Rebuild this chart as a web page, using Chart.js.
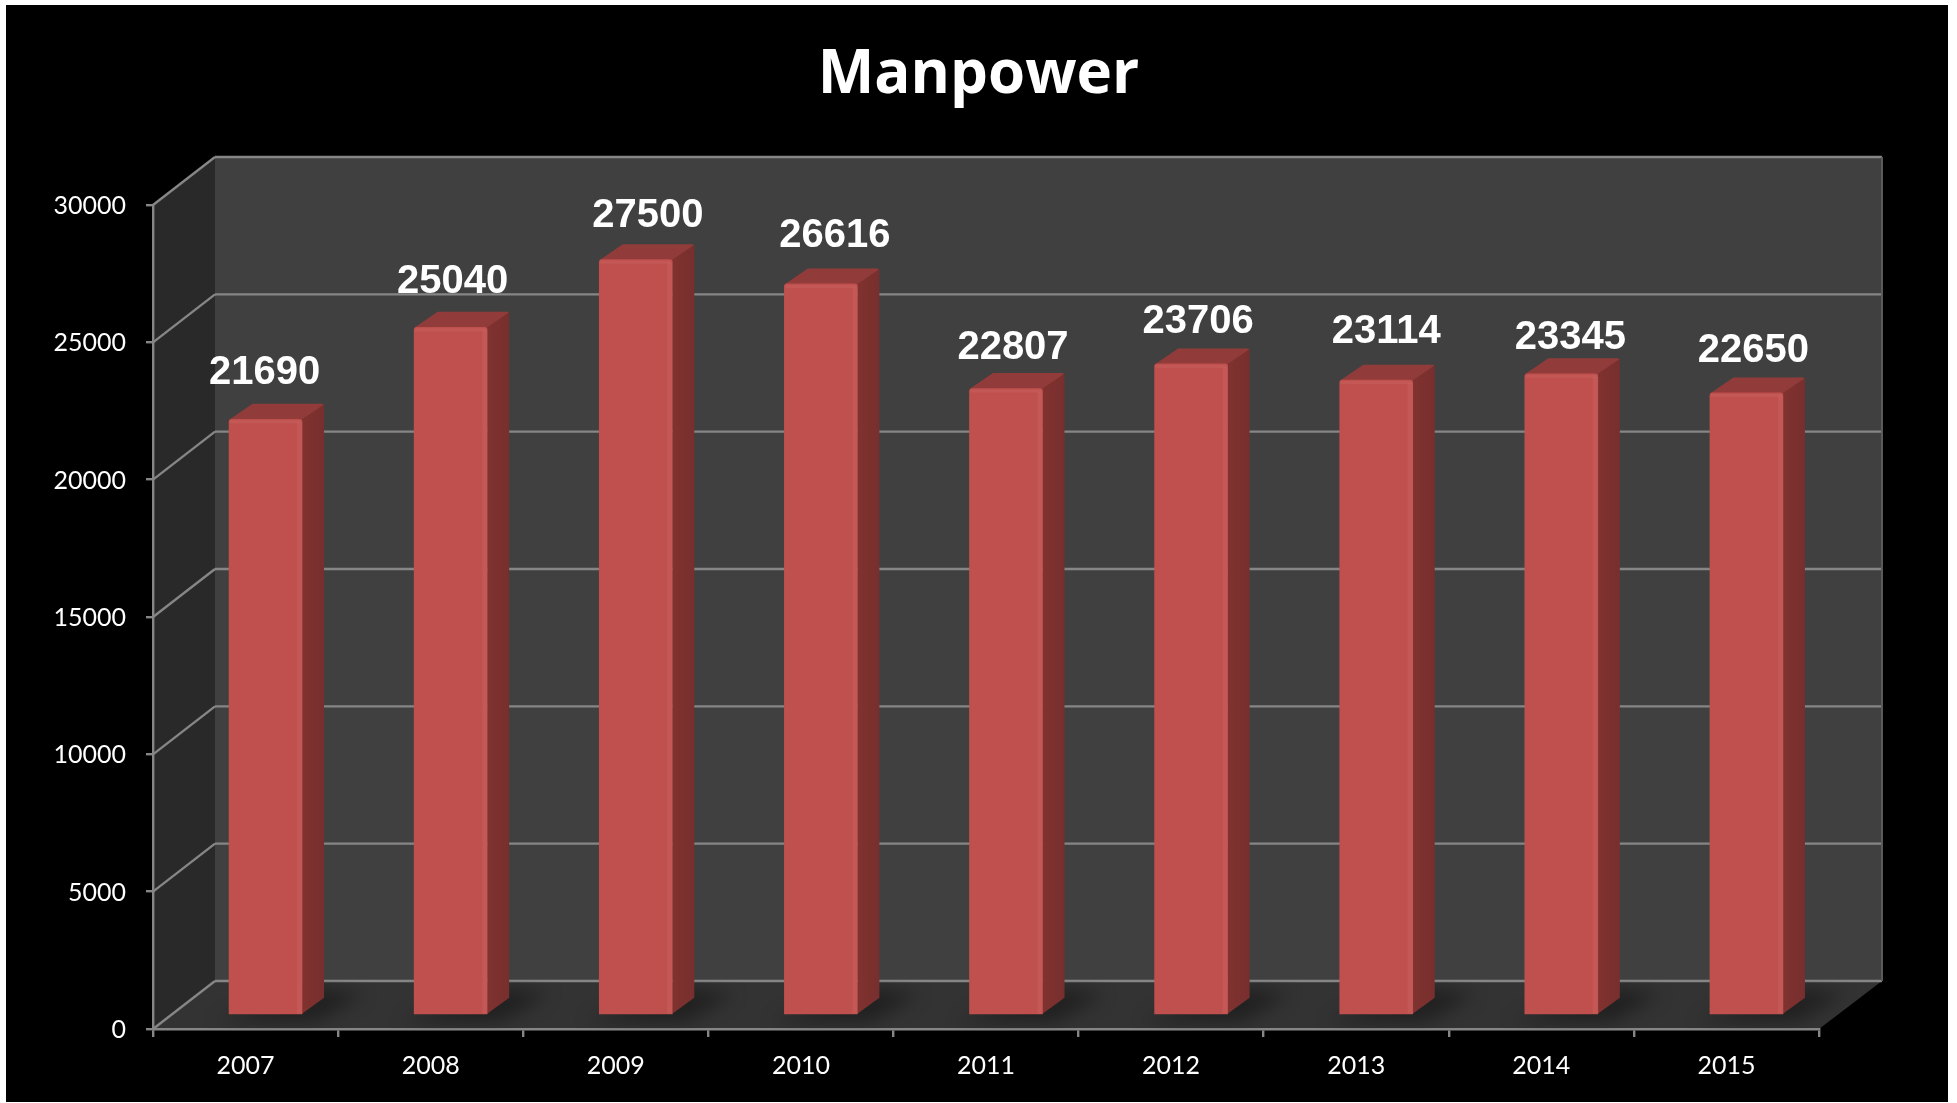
<!DOCTYPE html>
<html>
<head>
<meta charset="utf-8">
<title>Manpower</title>
<script src="https://cdn.jsdelivr.net/npm/chart.js@4"></script>
<style>
    html, body { margin: 0; padding: 0; background: #fff; }
    canvas { display: block; }
</style>
</head>
<body>
<canvas id="manpowerChart" width="1957" height="1103"></canvas>
<script>
// data
const years = ['2007', '2008', '2009', '2010', '2011', '2012', '2013', '2014', '2015'];
const manpower = [21690, 25040, 27500, 26616, 22807, 23706, 23114, 23345, 22650];
const yTicks = [0, 5000, 10000, 15000, 20000, 25000, 30000];

// the labels were placed by hand in the original, so they don't sit evenly over the bars
const labelShiftX = [-1, 2, 12, 14, 7, 7, 10, 9, 7];
const labelLift = [35, 34, 33, 37, 30, 31, 37, 25, 31];

// fake 3D: how far the back wall and the bar plane sit from the front axes
const wallDepth = { x: 62, y: -48 };
const barPlane = { x: 20, y: -14 };
const barDepth = { x: 22, y: -16 };

const lineColor = '#868686';
const lineWidth = 2.4;

function poly(ctx, pts, color) {
    ctx.fillStyle = color;
    ctx.beginPath();
    pts.forEach((p, i) => i ? ctx.lineTo(p[0], p[1]) : ctx.moveTo(p[0], p[1]));
    ctx.closePath();
    ctx.fill();
}

function line(ctx, x1, y1, x2, y2) {
    ctx.beginPath();
    ctx.moveTo(x1, y1);
    ctx.lineTo(x2, y2);
    ctx.stroke();
}

const roomPlugin = {
    id: 'room',
    beforeDraw(chart) {
        const ctx = chart.ctx;
        const { left, right, top, bottom } = chart.chartArea;
        const dx = wallDepth.x, dy = wallDepth.y;
        ctx.save();
        ctx.fillStyle = '#000';
        ctx.fillRect(6, 5, 1942, 1097);

        poly(ctx, [[left + dx, top + dy], [right + dx + 1, top + dy], [right + dx + 1, bottom + dy], [left + dx, bottom + dy]], '#404040');
        poly(ctx, [[left, top], [left + dx, top + dy], [left + dx, bottom + dy], [left, bottom]], '#292929');
        poly(ctx, [[left, bottom], [left + dx, bottom + dy], [right + dx + 1, bottom + dy], [right, bottom]], '#333333');

        // gridlines run along the side wall, then along the back wall
        ctx.strokeStyle = lineColor;
        ctx.lineWidth = lineWidth;
        yTicks.forEach(v => {
            const y = chart.scales.y.getPixelForValue(v);
            line(ctx, left, y, left + dx, y + dy);
            line(ctx, left + dx, y + dy, right + dx + 1, y + dy);
        });
        ctx.strokeStyle = '#5a5a5a';
        ctx.lineWidth = 2;
        line(ctx, right + dx + 1, top + dy, right + dx + 1, bottom + dy);
        ctx.restore();
    }
};

const barsPlugin = {
    id: 'bars3d',
    beforeDatasetsDraw(chart) {
        const ctx = chart.ctx;
        const bars = chart.getDatasetMeta(0).data;
        const area = chart.chartArea;
        const dx = barDepth.x, dy = barDepth.y;

        // soft shadows on the floor
        ctx.save();
        ctx.beginPath();
        ctx.moveTo(area.left, area.bottom);
        ctx.lineTo(area.left + wallDepth.x, area.bottom + wallDepth.y);
        ctx.lineTo(area.right + wallDepth.x, area.bottom + wallDepth.y);
        ctx.lineTo(area.right, area.bottom);
        ctx.closePath();
        ctx.clip();
        ctx.translate(barPlane.x, barPlane.y);
        ctx.filter = 'blur(9px)';
        bars.forEach(b => {
            const l = b.x - b.width / 2, r = b.x + b.width / 2, f = b.base;
            poly(ctx, [[l - 14, f + 8], [r + 14, f + 8], [r + 62, f - 20], [r + 16, f - 26]], 'rgba(0,0,0,0.36)');
        });
        ctx.restore();

        // everything the bars draw from here on is pushed back onto the bar plane
        ctx.save();
        ctx.translate(barPlane.x, barPlane.y);
        bars.forEach(b => {
            const l = b.x - b.width / 2, r = b.x + b.width / 2, t = b.y, f = b.base;
            ctx.lineJoin = 'round';
            ctx.lineWidth = 3;
            ctx.strokeStyle = '#913C3A';
            poly(ctx, [[l + 2, t + 1], [l + dx + 2, t + dy + 2], [r + dx - 2, t + dy + 2], [r - 1, t + 1]], '#913C3A');
            ctx.stroke();
            const side = ctx.createLinearGradient(r, 0, r + dx, 0);
            side.addColorStop(0, '#80322F');
            side.addColorStop(1, '#772F2E');
            poly(ctx, [[r, t], [r + dx, t + dy + 1], [r + dx, f + dy], [r, f]], side);
        });
    },
    afterDatasetsDraw(chart) {
        const ctx = chart.ctx;
        const bars = chart.getDatasetMeta(0).data;
        // small bevel on the front faces
        bars.forEach(b => {
            const l = b.x - b.width / 2, r = b.x + b.width / 2, t = b.y, f = b.base;
            ctx.fillStyle = 'rgba(255,255,255,0.05)';
            ctx.fillRect(r - 5, t + 3, 5, f - t - 3);
            ctx.fillRect(l + 1, t + 1, b.width - 2, 3);
        });
        ctx.restore();

        ctx.save();
        ctx.fillStyle = '#fff';
        ctx.font = 'bold 40px "Liberation Sans", Arial, sans-serif';
        ctx.textAlign = 'center';
        ctx.textBaseline = 'alphabetic';
        bars.forEach((b, i) => {
            ctx.fillText(String(manpower[i]), b.x + barPlane.x + labelShiftX[i], b.y + barPlane.y - labelLift[i]);
        });
        ctx.restore();
    }
};

new Chart(document.getElementById('manpowerChart'), {
    type: 'bar',
    data: {
        labels: years,
        datasets: [{
            label: 'Manpower',
            data: manpower,
            backgroundColor: '#C0504D',
            borderWidth: 0,
            borderRadius: 3,
            barThickness: 73,
            clip: false
        }]
    },
    plugins: [roomPlugin, barsPlugin],
    options: {
        responsive: false,
        animation: false,
        events: [],
        plugins: {
            legend: { display: false },
            tooltip: { enabled: false },
            title: {
                display: true,
                text: 'Manpower',
                color: '#fff',
                font: { family: '"Open Sans"', size: 60, weight: 'bold' },
                padding: { top: 40, bottom: 93 }
            }
        },
        scales: {
            x: {
                afterFit: s => { s.height = 74; },
                grid: { drawOnChartArea: false, color: lineColor, lineWidth: lineWidth, tickLength: 8 },
                border: { color: lineColor, width: lineWidth },
                ticks: { color: '#fff', padding: 14, maxRotation: 0, font: { family: 'Lato', size: 25 } }
            },
            y: {
                min: 0,
                max: 30000,
                afterFit: s => { s.width = 153; },
                afterBuildTicks: s => { s.ticks = yTicks.map(v => ({ value: v })); },
                grid: { drawOnChartArea: false, color: lineColor, lineWidth: lineWidth, tickLength: 7 },
                border: { color: lineColor, width: lineWidth },
                ticks: { color: '#fff', padding: 20, labelOffset: 1, font: { family: 'Lato', size: 25 }, callback: v => String(v) }
            },
            // empty axis that only reserves the right margin, so the title stays centred on the page
            rightMargin: {
                position: 'right',
                afterFit: s => { s.width = 138; },
                grid: { display: false },
                border: { display: false },
                ticks: { display: false }
            }
        }
    }
});
</script>
</body>
</html>
